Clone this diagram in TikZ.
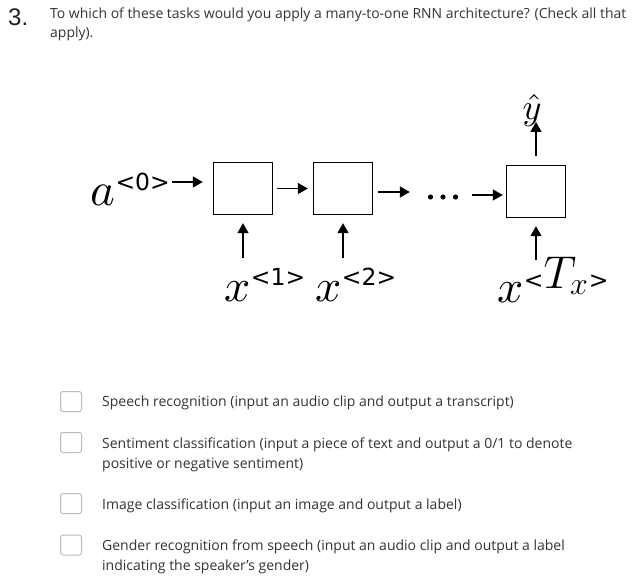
\documentclass[tikz,border=0pt]{standalone}
\usepackage{fontspec}
\newfontfamily\osans{Open Sans}
\newfontfamily\arialf{Liberation Sans}
\newfontfamily\supf{DejaVu Sans}
\usetikzlibrary{arrows.meta}
\definecolor{txt}{HTML}{333333}
\definecolor{cbx}{HTML}{BBBBBB}
\newcommand{\bigsym}[2]{\scalebox{#1}{$#2$}}
\newcommand{\supsz}{\supf\fontsize{23.5}{23.5}\selectfont}
\begin{document}
\begin{tikzpicture}[x=1pt,y=-1pt,
  cell/.style={draw, line width=1.3pt, minimum width=59pt, minimum height=52pt, inner sep=0pt},
  arr/.style={line width=1.4pt, -{Triangle[length=10pt,width=11pt]}},
  lbl/.style={inner sep=0pt, anchor=base west},
  chk/.style={draw=cbx, line width=1pt, rounded corners=2.5pt, minimum width=21pt, minimum height=20pt, inner sep=0pt},
  qtxt/.style={inner sep=0pt, anchor=base west, text=txt, font=\osans\fontsize{13.95}{16}\selectfont},
  itxt/.style={inner sep=0pt, anchor=base west, text=txt, font=\osans\fontsize{14}{16}\selectfont}
]
\useasboundingbox (0,0) rectangle (638,578);
\fill[white] (0,0) rectangle (638,578);

% header
\node[lbl, text=black!87, font=\arialf\fontsize{24}{24}\selectfont] (num) at (8,26) {3.};
\node[qtxt] (q1) at (50,19) {To which of these tasks would you apply a many-to-one RNN architecture? (Check all that};
\node[qtxt] (q2) at (50,38) {apply).};

% diagram cells
\node[cell] (b1) at (243,188.5) {};
\node[cell] (b2) at (343,188.5) {};
\node[cell] (b3) at (536,191.5) {};
\node[minimum width=30pt, minimum height=5pt, inner sep=0pt] (dots) at (443,197) {};
\foreach \dx in {-12.5,0,12.5} \fill ([xshift=\dx pt]dots.center) circle (2.6pt);

% labels
\node[lbl] (a0) at (90,205) {\bigsym{4.7}{a}\hspace{0.5pt}\raisebox{15pt}{\supsz <0>}};
\node[lbl] (x1) at (224,301) {\bigsym{4.6}{x}\hspace{0.5pt}\raisebox{16pt}{\supsz <1>}};
\node[lbl] (x2) at (315,301) {\bigsym{4.6}{x}\hspace{0.5pt}\raisebox{16pt}{\supsz <2>}};
\node[lbl] (xT) at (497,302) {\bigsym{4.6}{x}\hspace{0.5pt}\raisebox{14pt}{\supsz <\scalebox{1.85}{$T_x$}>}};
\node[inner sep=0pt] (yh) at (532,111) {\scalebox{3.6}{$\hat{y}$}};

% connectors
\coordinate (a0e) at (172,182);
\draw[arr, shorten >=10pt] (a0e) -- (b1.west |- a0e);
\draw[arr, shorten <=4pt, shorten >=5pt] (b1.east) -- (b2.west);
\coordinate (b2o) at (378,192);
\draw[arr, shorten >=18pt] (b2o) -- (dots.west |- b2o);
\coordinate (d3) at (472,195);
\draw[arr, shorten >=3pt] (d3) -- (b3.west |- d3);
\coordinate (i1) at (243,258);
\coordinate (i2) at (343,258);
\coordinate (i3) at (536,260);
\draw[arr, shorten >=8pt] (i1) -- (b1.south);
\draw[arr, shorten >=8pt] (i2) -- (b2.south);
\draw[arr, shorten >=8pt] (i3) -- (b3.south);
\coordinate (yo) at (536,122);
\draw[arr, shorten <=9pt] (b3.north) -- (yo);

% options
\node[chk] (c1) at (71,401.5) {};
\node[chk] (c2) at (71,442.5) {};
\node[chk] (c3) at (71,503.5) {};
\node[chk] (c4) at (71,545) {};
\node[itxt] (t1) at (102,406) {Speech recognition (input an audio clip and output a transcript)};
\node[itxt] (t2a) at (102,448) {Sentiment classification (input a piece of text and output a 0/1 to denote};
\node[itxt] (t2b) at (102,468) {positive or negative sentiment)};
\node[itxt] (t3) at (102,509) {Image classification (input an image and output a label)};
\node[itxt] (t4a) at (102,550) {Gender recognition from speech (input an audio clip and output a label};
\node[itxt] (t4b) at (102,570) {indicating the speaker’s gender)};
\end{tikzpicture}
\end{document}
